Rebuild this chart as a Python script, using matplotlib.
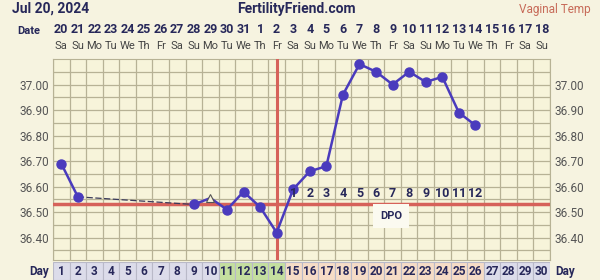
import numpy as np
import matplotlib
matplotlib.use('Agg')
import matplotlib.pyplot as plt
from matplotlib.transforms import blended_transform_factory

plt.rcParams['font.family'] = ['Roboto', 'DejaVu Sans']

days = list(range(1, 31))
dates = [20, 21, 22, 23, 24, 25, 26, 27, 28, 29, 30, 31, 1, 2, 3, 4, 5, 6, 7, 8,
         9, 10, 11, 12, 13, 14, 15, 16, 17, 18]
weekdays = ['Sa', 'Su', 'Mo', 'Tu', 'We', 'Th', 'Fr'] * 5
weekdays = weekdays[:30]

# temps (None = no reading)
temps = [36.69, 36.56, None, None, None, None, None, None, 36.53, None,
         36.51, 36.58, 36.52, 36.42, 36.59, 36.66, 36.68, 36.96, 37.08, 37.05,
         37.00, 37.05, 37.01, 37.03, 36.89, 36.84, None, None, None, None]
excluded_day = 10
excluded_temp = 36.555
coverline = 36.533
ovulation_day = 14
dpo_labels = list(range(1, 13))
dpo_days = list(range(15, 27))
phase = ['n'] * 10 + ['f'] * 4 + ['l'] * 12 + ['n'] * 4
phase_colors = {'n': '#dcdcea', 'f': '#c4df9f', 'l': '#f6dcc6'}

bg = '#f6f3e0'
navy = '#27285a'
mark = '#4a3bbd'
red = '#d6625a'
grid = '#b7b295'

fig = plt.figure(figsize=(6, 2.8), dpi=100, facecolor=bg)
ax = fig.add_axes([53 / 600, 20 / 280, 497 / 600, 201 / 280])
ax.set_facecolor('#f7f4da')
ax.set_xlim(0.5, 30.5)
ax.set_ylim(36.3125, 37.10)

for x in np.arange(0.5, 31, 1):
    ax.axvline(x, color=grid, lw=0.9, zorder=1)
for y in np.arange(36.35, 37.1, 0.05):
    ax.axhline(y, color=grid, lw=0.9, zorder=1)
for s in ax.spines.values():
    s.set_color(grid)

ax.set_xticks([])
ax.set_yticks([36.4, 36.5, 36.6, 36.7, 36.8, 36.9, 37.0])
ax.set_yticklabels(['%.2f' % v for v in ax.get_yticks()])
ax.tick_params(axis='y', length=0, labelsize=8.5, labelcolor='#555555',
               left=True, right=True, labelleft=True, labelright=True, pad=3)

# coverline and ovulation line
ax.axhline(coverline, color=red, lw=2.5, zorder=3)
ax.axvline(ovulation_day, color=red, lw=2.2, zorder=3)

# solid segments between consecutive readings
t = np.array([np.nan if v is None else v for v in temps])
d = np.array(days)
ax.plot(d[:2], t[:2], color=mark, lw=1.8, zorder=4)
ax.plot([2, 9], [t[1], t[8]], color='#3a3a5a', lw=0.9, ls=(0, (5, 2)), zorder=4)
ax.plot([9, excluded_day, 11], [t[8], excluded_temp, t[10]], color=mark, lw=1.8, zorder=4)
ax.plot(d[10:26], t[10:26], color=mark, lw=1.8, zorder=4)
ax.plot(d, t, 'o', color=mark, ms=6.5, zorder=5)
ax.plot([excluded_day], [excluded_temp], '^', mfc='#f7f4da', mec='#555555',
        ms=6, mew=0.8, zorder=5)

for lab, dd in zip(dpo_labels, dpo_days):
    ax.text(dd, 36.572, str(lab), ha='center', va='center', fontsize=9,
            fontweight='bold', color=navy, zorder=6)
ax.text(20.9, 36.485, 'DPO', ha='center', va='center', fontsize=8,
        fontweight='bold', color=navy, zorder=6,
        bbox=dict(boxstyle='square,pad=0.6', fc='#fbfaf0', ec='none'))

# top date rows
tr = blended_transform_factory(ax.transData, ax.transAxes)
for dd, dt, wd in zip(days, dates, weekdays):
    ax.text(dd, 1.145, str(dt), transform=tr, ha='center', va='center',
            fontsize=9, fontweight='bold', color=navy)
    ax.text(dd, 1.065, wd, transform=tr, ha='center', va='center',
            fontsize=8, color='#444444')
ax.text(-0.25, 1.14, 'Date', transform=tr, ha='right', va='center',
        fontsize=8, fontweight='bold', color=navy)

# bottom day row
ax2 = fig.add_axes([53 / 600, 0, 497 / 600, 18 / 280])
ax2.set_xlim(0.5, 30.5)
ax2.set_ylim(0, 1)
ax2.bar(days, [1] * 30, width=1, color=[phase_colors[p] for p in phase],
        edgecolor='#b9b9c8', lw=0.8)
for dd in days:
    ax2.text(dd, 0.45, str(dd), ha='center', va='center', fontsize=8.5,
             fontweight='bold', color=navy)
ax2.axis('off')
fig.text(49 / 600, 9 / 280, 'Day', ha='right', va='center', fontsize=8.5,
         fontweight='bold', color=navy)
fig.text(555 / 600, 9 / 280, 'Day', ha='left', va='center', fontsize=8.5,
         fontweight='bold', color=navy)

fig.text(12 / 600, 1 - 9 / 280, 'Jul 20, 2024', ha='left', va='center',
         fontsize=10, fontweight='bold', color=navy)
fig.text(296 / 600, 1 - 9 / 280, 'FertilityFriend.com', ha='center', va='center',
         fontsize=10, fontweight='bold', color=navy)
fig.text(591 / 600, 1 - 9 / 280, 'Vaginal Temp', ha='right', va='center',
         fontsize=8.5, color='#c76a58')

fig.savefig('out.png', dpi=100, facecolor=bg)
